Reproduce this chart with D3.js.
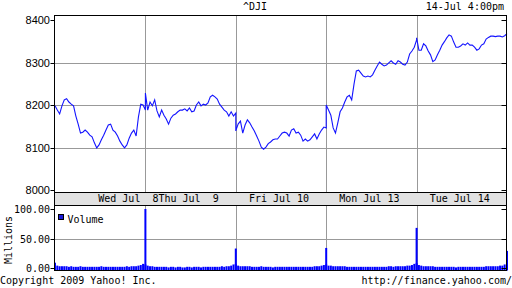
<!DOCTYPE html>
<html>
<head>
<meta charset="utf-8">
<script src="https://cdn.jsdelivr.net/npm/d3@7"></script>
<style>
    body { margin: 0; background: #fff; }
    text { font-family: 'DejaVu Sans Mono', monospace; font-size: 10px; fill: #000; }
</style>
</head>
<body>
<div id="chart"></div>
<script>
// Trading days shown (10-minute samples, 9:30 to 16:00)
const dayLabels = ['Wed Jul  8', 'Thu Jul  9', 'Fri Jul 10', 'Mon Jul 13', 'Tue Jul 14'];

const closeJul8 = [8198, 8188, 8179, 8198, 8212, 8215, 8207, 8202, 8198, 8174,
    8155, 8134, 8136, 8141, 8136, 8129, 8125, 8111, 8099, 8106,
    8118, 8129, 8141, 8153, 8155, 8141, 8136, 8127, 8115, 8106,
    8099, 8106, 8122, 8134, 8141, 8127, 8172, 8202, 8200, 8188];
const closeJul9 = [8228, 8188, 8207, 8198, 8212, 8186, 8172, 8188, 8176, 8167,
    8155, 8169, 8176, 8179, 8184, 8188, 8188, 8191, 8186, 8193,
    8184, 8186, 8200, 8207, 8198, 8202, 8200, 8205, 8219, 8223,
    8219, 8214, 8202, 8195, 8188, 8184, 8174, 8184, 8174, 8181];
const closeJul10 = [8139, 8155, 8162, 8134, 8153, 8165, 8158, 8148, 8139, 8127,
    8115, 8101, 8096, 8101, 8109, 8113, 8118, 8120, 8120, 8127,
    8134, 8136, 8134, 8127, 8141, 8144, 8134, 8136, 8129, 8115,
    8120, 8115, 8118, 8125, 8132, 8120, 8132, 8141, 8148, 8146];
const closeJul13 = [8200, 8188, 8176, 8146, 8134, 8158, 8184, 8193, 8207, 8219,
    8223, 8212, 8249, 8280, 8282, 8275, 8268, 8266, 8268, 8266,
    8271, 8282, 8292, 8301, 8296, 8292, 8294, 8299, 8304, 8299,
    8296, 8304, 8301, 8296, 8294, 8301, 8320, 8327, 8336, 8353];
const closeJul14 = [8358, 8329, 8329, 8344, 8339, 8327, 8318, 8302, 8306, 8318,
    8329, 8341, 8349, 8358, 8365, 8362, 8348, 8336, 8336, 8339,
    8344, 8341, 8346, 8341, 8341, 8336, 8329, 8332, 8341, 8344,
    8355, 8359, 8362, 8362, 8361, 8362, 8362, 8360, 8363, 8368];

// Volume, millions
const volJul8 = [9, 4, 3, 3, 3, 3, 2, 3, 2, 2, 2, 3, 2, 2, 2, 2, 2, 2, 2, 2,
    3, 2, 2, 2, 2, 2, 2, 2, 2, 2, 2, 3, 2, 3, 3, 3, 4, 5, 7, 100];
const volJul9 = [6, 4, 3, 3, 2, 2, 2, 2, 2, 2, 1, 2, 2, 1, 2, 2, 1, 1, 2, 2,
    1, 2, 2, 2, 1, 2, 2, 2, 2, 2, 2, 2, 2, 3, 2, 3, 3, 4, 6, 33];
const volJul10 = [7, 4, 3, 3, 3, 3, 3, 2, 2, 2, 2, 3, 2, 2, 2, 2, 1, 2, 2, 2,
    2, 2, 2, 2, 2, 2, 2, 2, 2, 2, 2, 2, 2, 2, 3, 3, 3, 4, 5, 34];
const volJul13 = [6, 4, 4, 3, 3, 3, 3, 3, 3, 2, 2, 2, 2, 2, 2, 2, 2, 2, 2, 2,
    2, 2, 2, 2, 2, 2, 2, 3, 3, 2, 3, 3, 3, 3, 3, 4, 4, 5, 7, 68];
const volJul14 = [8, 5, 4, 3, 3, 3, 3, 3, 2, 2, 2, 2, 2, 2, 2, 2, 2, 1, 2, 2,
    2, 2, 2, 2, 2, 2, 2, 2, 2, 2, 3, 3, 3, 3, 3, 3, 4, 4, 6, 29];

const priceTicks = [8000, 8100, 8200, 8300, 8400];
const priceGrid = [8100, 8200, 8300];
const volTicks = [0, 50, 100];

const closes = [closeJul8, closeJul9, closeJul10, closeJul13, closeJul14];
const vols = [volJul8, volJul9, volJul10, volJul13, volJul14];

const DAY_MIN = 390;
const STEP = 10;

const data = [];
closes.forEach((day, d) => {
    day.forEach((v, k) => {
        data.push({ t: d * DAY_MIN + k * STEP, v: v, vol: vols[d][k] });
    });
});

const WIDTH = 512;
const HEIGHT = 288;
const LEFT = 54.5;
const RIGHT = 506.5;
const TOP = 15.5;
const BAND_TOP = 192.5;
const BAND_BOTTOM = 205.5;
const BOTTOM = 270.5;

const svg = d3.select('#chart')
    .append('svg')
    .attr('width', WIDTH)
    .attr('height', HEIGHT);

// Scales
const xScale = d3.scaleLinear()
    .domain([0, DAY_MIN * closes.length])
    .range([55, 507]);

const yScale = d3.scaleLinear()
    .domain([8000, 8400])
    .range([190, 20]);

const vScale = d3.scaleLinear()
    .domain([0, 100])
    .range([268, 209]);

const px = v => Math.round(v) + 0.5;

// Date band
svg.append('rect')
    .attr('x', LEFT)
    .attr('y', BAND_TOP)
    .attr('width', RIGHT - LEFT)
    .attr('height', BAND_BOTTOM - BAND_TOP)
    .style('fill', '#e2e2e2');

// Grid lines
const dayBounds = d3.range(1, closes.length).map(d => d * DAY_MIN);

svg.selectAll('.vgrid-top')
    .data(dayBounds)
    .enter()
    .append('line')
    .attr('x1', d => px(xScale(d)))
    .attr('x2', d => px(xScale(d)))
    .attr('y1', TOP)
    .attr('y2', BAND_TOP)
    .style('stroke', '#999');

svg.selectAll('.vgrid-bottom')
    .data(dayBounds)
    .enter()
    .append('line')
    .attr('x1', d => px(xScale(d)))
    .attr('x2', d => px(xScale(d)))
    .attr('y1', BAND_BOTTOM)
    .attr('y2', BOTTOM)
    .style('stroke', '#999');

svg.selectAll('.hgrid')
    .data(priceGrid)
    .enter()
    .append('line')
    .attr('x1', LEFT)
    .attr('x2', RIGHT)
    .attr('y1', d => px(yScale(d)))
    .attr('y2', d => px(yScale(d)))
    .style('stroke', '#999');

svg.append('line')
    .attr('x1', LEFT)
    .attr('x2', RIGHT)
    .attr('y1', px(vScale(50)))
    .attr('y2', px(vScale(50)))
    .style('stroke', '#999');

// Volume bars
svg.selectAll('.vol')
    .data(data)
    .enter()
    .append('rect')
    .attr('x', d => xScale(d.t) - 1)
    .attr('y', d => vScale(d.vol))
    .attr('width', 2)
    .attr('height', d => BOTTOM - vScale(d.vol))
    .style('fill', '#0000ff');

// Price line
const line = d3.line()
    .x(d => xScale(d.t))
    .y(d => yScale(d.v));

svg.append('path')
    .datum(data)
    .attr('d', line)
    .style('fill', 'none')
    .style('stroke', '#1414ff')
    .style('stroke-width', 1.1);

// Frames
const frame = (y1, y2) => svg.append('rect')
    .attr('x', LEFT)
    .attr('y', y1)
    .attr('width', RIGHT - LEFT)
    .attr('height', y2 - y1)
    .style('fill', 'none')
    .style('stroke', '#000');

frame(TOP, BAND_TOP);
frame(BAND_TOP, BAND_BOTTOM);
frame(BAND_BOTTOM, BOTTOM);

// Ticks and labels, price
svg.selectAll('.ptick')
    .data(priceTicks)
    .enter()
    .append('path')
    .attr('d', d => {
        const y = px(yScale(d));
        return `M${LEFT - 4},${y}H${LEFT}M${RIGHT - 5},${y}H${RIGHT}`;
    })
    .style('stroke', '#000');

svg.selectAll('.plabel')
    .data(priceTicks)
    .enter()
    .append('text')
    .text(d => d)
    .attr('x', 50)
    .attr('y', d => yScale(d) + 4)
    .attr('text-anchor', 'end')
    .style('font-family', "'Liberation Sans', Arial, sans-serif")
    .style('font-size', '11px');

// Ticks and labels, volume
svg.selectAll('.vtick')
    .data(volTicks)
    .enter()
    .append('path')
    .attr('d', d => {
        const y = px(vScale(d));
        return `M${LEFT - 4},${y}H${LEFT}M${RIGHT - 5},${y}H${RIGHT}`;
    })
    .style('stroke', '#000');

svg.selectAll('.vlabel')
    .data(volTicks)
    .enter()
    .append('text')
    .text(d => d.toFixed(2))
    .attr('x', 50)
    .attr('y', d => vScale(d) + 4)
    .attr('text-anchor', 'end');

svg.append('text')
    .text('Millions')
    .attr('transform', 'translate(11.5,240) rotate(-90)')
    .attr('text-anchor', 'middle');

// Day labels in the band
const labels = svg.selectAll('.day')
    .data(dayLabels)
    .enter()
    .append('text')
    .text(d => d)
    .style('white-space', 'pre')
    .attr('x', (d, i) => xScale(i * DAY_MIN + DAY_MIN / 2) - 2)
    .attr('y', 202)
    .attr('text-anchor', 'middle');

// first label is pushed up against the second one
const second = labels.nodes()[1];
const secondStart = +second.getAttribute('x') - second.getComputedTextLength() / 2;
d3.select(labels.nodes()[0])
    .attr('x', secondStart)
    .attr('text-anchor', 'end');

// Legend
svg.append('rect')
    .attr('x', 58.5)
    .attr('y', 214.5)
    .attr('width', 5)
    .attr('height', 5)
    .style('fill', '#1a1ad8')
    .style('stroke', '#000');

svg.append('text')
    .text('Volume')
    .attr('x', 67.5)
    .attr('y', 222.5);

// Header and footer
svg.append('text')
    .text('^DJI')
    .attr('x', 255)
    .attr('y', 10)
    .attr('text-anchor', 'middle');

svg.append('text')
    .text('14-Jul 4:00pm')
    .attr('x', 504)
    .attr('y', 10)
    .attr('text-anchor', 'end');

svg.append('text')
    .text('Copyright 2009 Yahoo! Inc.')
    .attr('x', 0)
    .attr('y', 284);

svg.append('text')
    .text('http://finance.yahoo.com/')
    .attr('x', 512)
    .attr('y', 284)
    .attr('text-anchor', 'end');
</script>
</body>
</html>
